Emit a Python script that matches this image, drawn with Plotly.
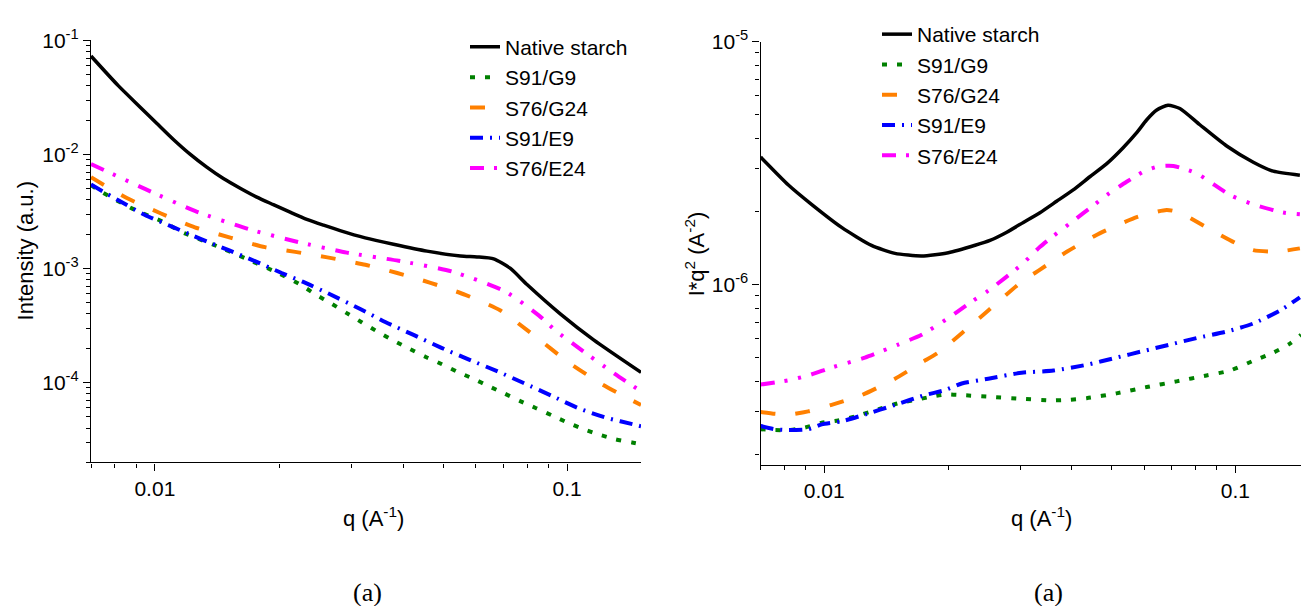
import math
import plotly.graph_objects as go

# ---------------- data: panel 1, Intensity vs q ----------------
series_names = ["Native starch", "S91/G9", "S76/G24", "S91/E9", "S76/E24"]

qL_native = [0.0070, 0.00815, 0.0092, 0.0101, 0.01109, 0.01217, 0.01336, 0.01466, 0.0161, 0.01767,
             0.01938, 0.02128, 0.02336, 0.02565, 0.02813, 0.03236, 0.0379, 0.0457, 0.0551, 0.0604,
             0.0663, 0.0727, 0.0799, 0.0962, 0.1159, 0.151]
IL_native = [0.0729, 0.0401, 0.0261, 0.0188, 0.01355, 0.01007, 0.00774, 0.00615, 0.00506, 0.00423,
             0.00363, 0.00312, 0.0027, 0.0024, 0.00215, 0.001858, 0.001633, 0.001422, 0.00129, 0.001265,
             0.001216, 0.001007, 0.000725, 0.000401, 0.000237, 0.000123]

qL_g9 = [0.0070, 0.00743, 0.0089, 0.01059, 0.01162, 0.0138, 0.01656, 0.01968, 0.0225, 0.0245,
         0.0269, 0.0292, 0.0318, 0.0349, 0.0379, 0.0416, 0.0454, 0.0497, 0.054, 0.0593, 0.0645,
         0.0705, 0.0769, 0.0841, 0.0918, 0.1002, 0.1096, 0.1191, 0.1309, 0.1436, 0.151]
IL_g9 = [0.0054, 0.00468, 0.0033, 0.00252, 0.00209, 0.00163, 0.00123, 0.000931, 0.000725, 0.000595,
         0.000489, 0.000407, 0.000337, 0.000276, 0.000234, 0.000197, 0.000168, 0.000145, 0.000125,
         0.000108, 0.0000931, 0.0000802, 0.0000689, 0.0000597, 0.0000516, 0.0000447, 0.0000391,
         0.0000352, 0.0000319, 0.0000299, 0.0000289]

qL_g24 = [0.0070, 0.00855, 0.01035, 0.0125, 0.01531, 0.0185, 0.0219, 0.026, 0.0324, 0.0387,
          0.0466, 0.0566, 0.0689, 0.0832, 0.1009, 0.1217, 0.151]
IL_g24 = [0.00631, 0.00415, 0.00304, 0.0023, 0.00186, 0.00154, 0.0014, 0.00126, 0.00108, 0.000914,
          0.00075, 0.000589, 0.000429, 0.000258, 0.00015, 0.0000964, 0.0000637]

qL_e9 = [0.0070, 0.00815, 0.00946, 0.011, 0.0129, 0.0151, 0.0176, 0.0203, 0.0229, 0.0266, 0.0313,
         0.0362, 0.0424, 0.0494, 0.0576, 0.0676, 0.0784, 0.0918, 0.1066, 0.125, 0.1456, 0.151]
IL_e9 = [0.00545, 0.00397, 0.00295, 0.00233, 0.00182, 0.00145, 0.00115, 0.000914, 0.000764,
         0.000595, 0.000447, 0.00034, 0.000262, 0.000203, 0.00016, 0.000126, 0.0000993, 0.0000766,
         0.0000596, 0.000049, 0.0000429, 0.0000415]

qL_e24 = [0.0070, 0.00946, 0.0125, 0.01686, 0.0221, 0.0292, 0.039, 0.0525, 0.0708, 0.0853,
          0.0945, 0.1273, 0.151]
IL_e24 = [0.00824, 0.00499, 0.0032, 0.00222, 0.00172, 0.00138, 0.00117, 0.000944, 0.000628,
          0.000389, 0.000279, 0.000127, 0.0000839]

# ---------------- data: panel 2, I*q^2 vs q ----------------
qR_native = [0.0070, 0.00818, 0.00931, 0.01102, 0.01303, 0.01486, 0.01725, 0.02004, 0.02328,
             0.0253, 0.0278, 0.0305, 0.03347, 0.03675, 0.04033, 0.04428, 0.0486, 0.05335, 0.0575,
             0.06083, 0.06441, 0.0686, 0.0733, 0.082, 0.0953, 0.1106, 0.1237, 0.1436]
YR_native = [3.35e-6, 2.57e-6, 2.14e-6, 1.72e-6, 1.45e-6, 1.345e-6, 1.312e-6, 1.353e-6, 1.452e-6,
             1.521e-6, 1.644e-6, 1.803e-6, 1.977e-6, 2.203e-6, 2.455e-6, 2.78e-6, 3.14e-6, 3.66e-6,
             4.21e-6, 4.76e-6, 5.23e-6, 5.47e-6, 5.31e-6, 4.55e-6, 3.72e-6, 3.19e-6, 2.93e-6, 2.82e-6]

qR_g9 = [0.0070, 0.00759, 0.00818, 0.00897, 0.00986, 0.01081, 0.01188, 0.0138, 0.01514, 0.01663,
         0.01792, 0.01967, 0.0216, 0.02506, 0.0302, 0.0361, 0.0396, 0.0435, 0.0514, 0.0609,
         0.072, 0.0851, 0.097, 0.1106, 0.1237, 0.1358, 0.1445]
YR_g9 = [2.54e-7, 2.52e-7, 2.52e-7, 2.58e-7, 2.7e-7, 2.76e-7, 2.87e-7, 3.1e-7, 3.25e-7, 3.35e-7,
         3.44e-7, 3.53e-7, 3.51e-7, 3.46e-7, 3.39e-7, 3.34e-7, 3.36e-7, 3.41e-7, 3.57e-7, 3.79e-7,
         4.0e-7, 4.23e-7, 4.43e-7, 4.86e-7, 5.25e-7, 5.72e-7, 6.22e-7]

qR_g24 = [0.0070, 0.00759, 0.00818, 0.00914, 0.01042, 0.01233, 0.01486, 0.01725, 0.01892, 0.0216,
          0.02506, 0.0302, 0.0335, 0.0389, 0.0469, 0.0578, 0.0681, 0.0733, 0.0851, 0.1007,
          0.1106, 0.1262, 0.1436]
YR_g24 = [2.99e-7, 2.94e-7, 2.92e-7, 3.01e-7, 3.2e-7, 3.51e-7, 4.1e-7, 4.78e-7, 5.25e-7, 6.31e-7,
          7.83e-7, 1.027e-6, 1.153e-6, 1.365e-6, 1.63e-6, 1.90e-6, 2.03e-6, 1.98e-6, 1.72e-6,
          1.476e-6, 1.387e-6, 1.367e-6, 1.41e-6]

qR_e9 = [0.0070, 0.00759, 0.00818, 0.00914, 0.00986, 0.01102, 0.01256, 0.01486, 0.01757, 0.01967,
         0.0216, 0.02506, 0.0302, 0.0361, 0.0435, 0.0514, 0.0597, 0.0694, 0.0805, 0.0953,
         0.1106, 0.1285, 0.1436]
YR_e9 = [2.62e-7, 2.54e-7, 2.52e-7, 2.54e-7, 2.66e-7, 2.74e-7, 2.92e-7, 3.2e-7, 3.51e-7, 3.68e-7,
         3.92e-7, 4.1e-7, 4.34e-7, 4.43e-7, 4.68e-7, 5.01e-7, 5.33e-7, 5.67e-7, 6.03e-7, 6.41e-7,
         6.92e-7, 7.83e-7, 8.87e-7]

qR_e24 = [0.0070, 0.00818, 0.00914, 0.01042, 0.01256, 0.01514, 0.01725, 0.02022, 0.0224, 0.02506,
          0.0302, 0.0335, 0.0362, 0.0405, 0.0452, 0.0487, 0.0544, 0.0603, 0.0653, 0.0707, 0.0805,
          0.097, 0.1106, 0.1309, 0.1436]
YR_e24 = [3.88e-7, 4.04e-7, 4.23e-7, 4.56e-7, 5.01e-7, 5.67e-7, 6.22e-7, 7.36e-7, 8.33e-7, 9.44e-7,
          1.208e-6, 1.432e-6, 1.592e-6, 1.84e-6, 2.12e-6, 2.34e-6, 2.65e-6, 2.94e-6, 3.07e-6,
          3.08e-6, 2.87e-6, 2.34e-6, 2.14e-6, 1.98e-6, 1.95e-6]

# tick labels
x_tickvals = [0.01, 0.1]
x_ticktext = ["0.01", "0.1"]
yL_tickvals = [1e-4, 1e-3, 1e-2, 1e-1]
yL_ticktext = ["10<sup>-4</sup>", "10<sup>-3</sup>", "10<sup>-2</sup>", "10<sup>-1</sup>"]
yR_tickvals = [1e-6, 1e-5]
yR_ticktext = ["10<sup>-6</sup>", "10<sup>-5</sup>"]

# ---------------- styles ----------------
colors = ["#000000", "#008000", "#FF8000", "#0000FF", "#FF00FF"]
dashes = ["solid", "5px,10px", "15px,20px", "13px,7px,2px,7px", "14px,10px,3px,11px,3px,11px"]
widths = [3.5, 4, 4, 4, 4]

FONT = "Liberation Sans, Arial, sans-serif"
SERIF = "Liberation Serif, Times New Roman, serif"

fig = go.Figure()

left = [(qL_native, IL_native), (qL_g9, IL_g9), (qL_g24, IL_g24), (qL_e9, IL_e9), (qL_e24, IL_e24)]
right = [(qR_native, YR_native), (qR_g9, YR_g9), (qR_g24, YR_g24), (qR_e9, YR_e9), (qR_e24, YR_e24)]

for i, (q, v) in enumerate(left):
    fig.add_trace(go.Scatter(x=q, y=v, mode="lines", name=series_names[i],
                             line=dict(color=colors[i], dash=dashes[i], width=widths[i],
                                       shape="spline", smoothing=0.6),
                             xaxis="x", yaxis="y", legend="legend"))
for i, (q, v) in enumerate(right):
    fig.add_trace(go.Scatter(x=q, y=v, mode="lines", name=series_names[i],
                             line=dict(color=colors[i], dash=dashes[i], width=widths[i],
                                       shape="spline", smoothing=0.6),
                             xaxis="x2", yaxis="y2", legend="legend2"))


def minor_vals(lo_exp, hi_exp):
    return [m * 10 ** e for e in range(lo_exp, hi_exp + 1) for m in range(2, 10)]


W, H = 1301, 606
axis_common = dict(type="log", showline=True, linecolor="black", linewidth=1.3,
                   mirror=False, ticks="outside", ticklen=7, tickwidth=1.2, tickcolor="black",
                   showgrid=False, zeroline=False, tickmode="array",
                   tickfont=dict(family=FONT, size=21, color="black"))
minor_common = dict(tickmode="array", ticks="outside", ticklen=4, tickwidth=1, tickcolor="black")
legend_font = dict(family=FONT, size=21, color="black")

fig.update_layout(
    width=W, height=H,
    margin=dict(l=0, r=0, t=0, b=0),
    paper_bgcolor="white", plot_bgcolor="white",
    font=dict(family=FONT, color="black"),
    xaxis=dict(axis_common, domain=[91 / W, 641 / W], anchor="y",
               range=[math.log10(0.007), math.log10(0.151)],
               tickvals=x_tickvals, ticktext=x_ticktext,
               minor=dict(minor_common, tickvals=minor_vals(-3, -1))),
    yaxis=dict(axis_common, domain=[1 - 459 / H, 1 - 27 / H], anchor="x",
               range=[math.log10(2e-5), -1],
               tickvals=yL_tickvals, ticktext=yL_ticktext,
               minor=dict(minor_common, tickvals=minor_vals(-5, -2))),
    xaxis2=dict(axis_common, domain=[760.6 / W, 1.0], anchor="y2",
                range=[math.log10(0.007), math.log10(0.1445)],
                tickvals=x_tickvals, ticktext=x_ticktext,
                minor=dict(minor_common, tickvals=minor_vals(-3, -1))),
    yaxis2=dict(axis_common, domain=[1 - 461.7 / H, 1 - 28.3 / H], anchor="x2",
                range=[math.log10(1.81e-7), -5],
                tickvals=yR_tickvals, ticktext=yR_ticktext,
                minor=dict(minor_common, tickvals=minor_vals(-7, -6))),
    legend=dict(x=465 / W, y=1 - 13 / H, xanchor="left", yanchor="top",
                bgcolor="rgba(0,0,0,0)", font=legend_font, tracegroupgap=0, itemwidth=30),
    legend2=dict(x=877 / W, y=1 - 0 / H, xanchor="left", yanchor="top",
                 bgcolor="rgba(0,0,0,0)", font=legend_font, tracegroupgap=0, itemwidth=30),
    showlegend=True,
)

ann_font = dict(family=FONT, size=22, color="black")
serif_font = dict(family=SERIF, size=26, color="black")
annots = [
    ("Intensity (a.u.)", 25, 243, -90, ann_font),
    ("q (A<sup>-1</sup>)", 373, 515, 0, ann_font),
    ("I*q<sup>2</sup> (A<sup>-2</sup>)", 695, 246, -90, ann_font),
    ("q (A<sup>-1</sup>)", 1041, 515, 0, ann_font),
    ("(a)", 367, 592, 0, serif_font),
    ("(a)", 1048, 592, 0, serif_font),
]
for text, px, py, ang, f in annots:
    fig.add_annotation(text=text, xref="paper", yref="paper", x=px / W, y=1 - py / H,
                       xanchor="center", yanchor="middle", textangle=ang,
                       showarrow=False, font=f)

fig.write_html("out.html", config={"displayModeBar": False},
               post_script="document.body.style.margin='0px';document.body.style.overflow='hidden';")
